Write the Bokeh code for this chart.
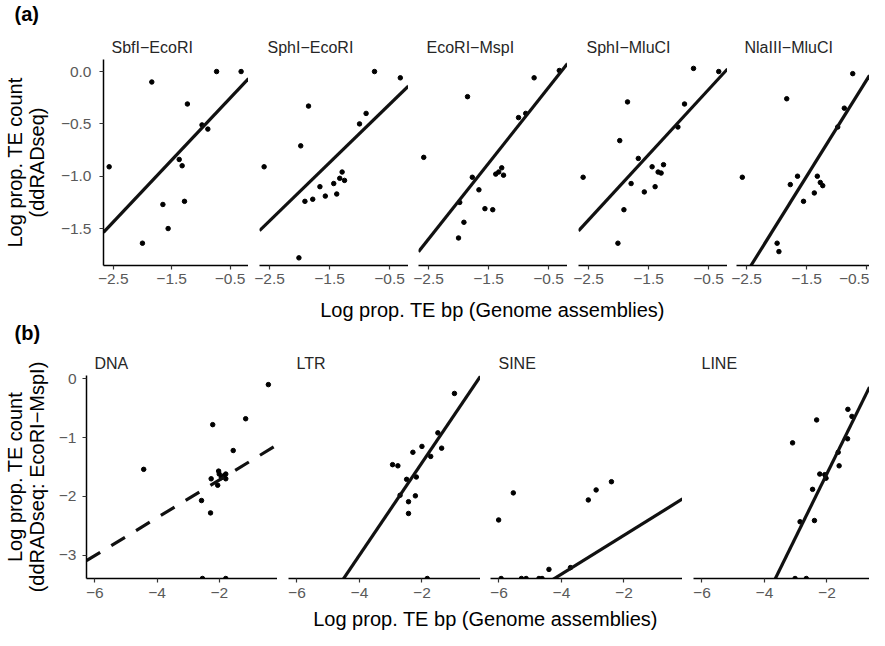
import numpy as np
from bokeh.plotting import figure
from bokeh.layouts import column, row
from bokeh.models import Range1d, Label, FixedTicker
from bokeh.embed import file_html
from bokeh.resources import INLINE

FONT = "Liberation Sans"
MINUS = "\u2212"

# ---------------- (a) data: log prop. TE bp vs log prop. TE count ----------------
a_names = ["SbfI" + MINUS + "EcoRI", "SphI" + MINUS + "EcoRI", "EcoRI" + MINUS + "MspI",
           "SphI" + MINUS + "MluCI", "NlaIII" + MINUS + "MluCI"]

sbfi_ecori_x = [-2.57, -2.00, -1.84, -1.65, -1.56, -1.37, -1.32, -1.28, -1.23, -0.98, -0.88, -0.73, -0.31]
sbfi_ecori_y = [-0.91, -1.64, -0.10, -1.27, -1.50, -0.84, -0.90, -1.24, -0.31, -0.51, -0.55, 0.00, 0.00]

sphi_ecori_x = [-2.59, -2.01, -1.98, -1.91, -1.85, -1.78, -1.66, -1.57, -1.43, -1.38, -1.33, -1.29, -1.25,
                -1.00, -0.89, -0.75, -0.32]
sphi_ecori_y = [-0.91, -1.78, -0.71, -1.24, -0.33, -1.22, -1.10, -1.19, -1.07, -1.17, -1.02, -0.96, -1.04,
                -0.50, -0.40, 0.00, -0.06]

ecori_mspi_x = [-2.58, -2.00, -1.98, -1.91, -1.85, -1.77, -1.66, -1.56, -1.43, -1.38, -1.33, -1.28, -1.25,
                -1.00, -0.88, -0.74, -0.32]
ecori_mspi_y = [-0.82, -1.59, -1.25, -1.44, -0.24, -1.01, -1.13, -1.31, -1.32, -0.98, -0.96, -0.92, -0.99,
                -0.44, -0.40, -0.06, 0.01]

sphi_mluci_x = [-2.59, -2.01, -1.98, -1.91, -1.85, -1.79, -1.67, -1.57, -1.44, -1.39, -1.34, -1.29, -1.25,
                -1.01, -0.90, -0.75, -0.33]
sphi_mluci_y = [-1.01, -1.64, -0.66, -1.32, -0.29, -1.07, -0.83, -1.15, -0.91, -1.10, -0.96, -0.97, -0.89,
                -0.53, -0.31, 0.03, 0.00]

nlaiii_mluci_x = [-2.57, -1.99, -1.96, -1.83, -1.77, -1.65, -1.55, -1.37, -1.32, -1.27, -1.23, -0.98, -0.87,
                  -0.73, -0.31]
nlaiii_mluci_y = [-1.01, -1.64, -1.72, -0.26, -1.08, -1.00, -1.24, -1.16, -1.00, -1.06, -1.09, -0.53, -0.35,
                  -0.02, 0.00]

a_slope = [0.592, 0.557, 0.724, 0.623, 0.920]
a_intercept = [0.042, -0.035, 0.209, 0.139, 0.378]

a_xticks = [-2.5, -1.5, -0.5]
a_xtick_labels = [MINUS + "2.5", MINUS + "1.5", MINUS + "0.5"]
a_yticks = [0.0, -0.5, -1.0, -1.5]
a_ytick_labels = ["0.0", MINUS + "0.5", MINUS + "1.0", MINUS + "1.5"]

# ---------------- (b) data: by TE class (EcoRI-MspI); -inf = zero count ----------------
b_names = ["DNA", "LTR", "SINE", "LINE"]
NEG_INF = -np.inf

dna_x = [-4.43, -2.57, -2.28, -2.26, -2.21, -2.05, -2.02, -2.00, -1.93, -1.85, -1.79, -1.79, -1.55, -1.15,
         -0.42, -2.54, -1.79]
dna_y = [-1.54, -2.07, -2.28, -1.70, -0.78, -1.81, -1.57, -1.62, -1.68, -1.65, -1.62, -1.70, -1.22, -0.68,
         -0.10, NEG_INF, NEG_INF]

ltr_x = [-2.94, -2.77, -2.70, -2.49, -2.43, -2.43, -2.29, -2.21, -2.18, -2.00, -1.72, -1.49, -1.37, -0.96, -1.83]
ltr_y = [-1.46, -1.48, -1.98, -1.71, -2.09, -2.29, -1.25, -1.99, -1.67, -1.15, -1.32, -0.92, -1.18, -0.25,
         NEG_INF]

sine_x = [-6.01, -5.54, -4.40, -3.71, -3.14, -2.89, -2.40, -5.93, -5.28, -5.13, -4.72, -4.62]
sine_y = [-2.40, -1.94, -3.24, -3.21, -2.06, -1.89, -1.75, NEG_INF, NEG_INF, NEG_INF, NEG_INF, NEG_INF]

line_x = [-3.10, -2.86, -2.46, -2.40, -2.33, -2.23, -2.07, -2.03, -1.64, -1.61, -1.34, -1.33, -1.20, -3.02, -2.66]
line_y = [-1.09, -2.43, -1.88, -2.41, -0.70, -1.62, -1.63, -1.69, -1.25, -1.48, -1.02, -0.52, -0.64,
          NEG_INF, NEG_INF]

b_slope = [0.321, 0.785, 0.330, 1.080]
b_intercept = [-1.079, 0.141, -2.001, 0.547]
b_dashed = [True, False, False, False]

b_xticks = [-6, -4, -2]
b_xtick_labels = [MINUS + "6", MINUS + "4", MINUS + "2"]
b_yticks = [0, -1, -2, -3]
b_ytick_labels = ["0", MINUS + "1", MINUS + "2", MINUS + "3"]

x_title = "Log prop. TE bp (Genome assemblies)"
a_ytitle = "Log prop. TE count\n(ddRADseq)"
b_ytitle = "Log prop. TE count\n(ddRADseq: EcoRI" + MINUS + "MspI)"

# ---------------- layout (page pixels) ----------------
PAGE_L = 8
PAGE_R = 877
W = PAGE_R - PAGE_L

a_left = [107, 267, 426, 586, 744]
a_fw = 149
a_fh = 206
a_x0, a_pxu = -2.667, 60.0
a_ylim = (-1.853, 0.115)

b_left = [93, 296, 498, 701]
b_fw = 192
b_fh = 206
b_x0, b_pxu = -6.27, 31.25
b_ylim = (-3.395, 0.055)

TICK_COLOR = "#595959"
STRIP_COLOR = "#262626"


def style_axis(ax, ticks, labels, standoff):
    ax.ticker = FixedTicker(ticks=ticks)
    ax.major_label_overrides = dict(zip(ticks, labels))
    ax.minor_tick_line_color = None
    ax.major_tick_in = 0
    ax.major_tick_out = 4
    ax.major_tick_line_color = "#333333"
    ax.major_tick_line_width = 1.2
    ax.axis_line_color = "black"
    ax.axis_line_width = 1.5
    ax.major_label_text_font = FONT
    ax.major_label_text_font_size = "15.5px"
    ax.major_label_text_color = TICK_COLOR
    ax.major_label_standoff = standoff


def panel(name, xs, ys, slope, icpt, x0, pxu, ylim, fw, fh, bl, bt, bb, xticks, xlabs, xstand,
          yticks=None, ylabs=None, ystand=8, ytitle=None, ytitle_stand=12, dashed=False):
    x1 = x0 + fw / pxu
    p = figure(width=bl + fw, height=bt + fh + bb,
               x_range=Range1d(x0, x1), y_range=Range1d(*ylim),
               output_backend="svg", toolbar_location=None,
               min_border_left=bl, min_border_right=0, min_border_top=bt, min_border_bottom=bb,
               y_axis_location="left" if yticks is not None else None)
    p.grid.visible = False
    p.outline_line_color = None
    p.background_fill_color = "white"
    # strip label
    p.title.text = name
    p.title.align = "left"
    p.title.offset = 8
    p.title.standoff = 8
    p.title.text_font = FONT
    p.title.text_font_size = "16px"
    p.title.text_font_style = "normal"
    p.title.text_color = STRIP_COLOR
    xs = np.asarray(xs, dtype=float)
    ys = np.asarray(ys, dtype=float)
    ys_plot = np.where(np.isinf(ys), ylim[0], ys)
    p.scatter(xs, ys_plot, size=4.5, color="black")
    lx = np.array([x0, x1])
    ly = icpt + slope * lx
    p.line(lx, ly, line_color="#111111", line_width=3.2,
           line_dash="16 13" if dashed else "solid")
    style_axis(p.xaxis[0], xticks, xlabs, xstand)
    if yticks is not None:
        ax = p.yaxis[0]
        style_axis(ax, yticks, ylabs, ystand)
        ax.axis_label = ytitle
        ax.axis_label_text_font = FONT
        ax.axis_label_text_font_size = "20px"
        ax.axis_label_text_font_style = "normal"
        ax.axis_label_text_color = "black"
        ax.axis_label_text_line_height = 1.0
        ax.axis_label_standoff = ytitle_stand
    return p


def blank(h):
    p = figure(width=W, height=h, x_range=Range1d(0, W), y_range=Range1d(h, 0),
               output_backend="svg", toolbar_location=None,
               min_border_left=0, min_border_right=0, min_border_top=0, min_border_bottom=0,
               x_axis_location=None, y_axis_location=None)
    p.grid.visible = False
    p.outline_line_color = None
    return p


def text(p, x, y, s, size, bold=False, align="left", color="black"):
    p.add_layout(Label(x=x, y=y, text=s, text_font=FONT, text_font_size=f"{size}px",
                       text_font_style="bold" if bold else "normal", text_align=align,
                       text_baseline="middle", text_color=color))


# header (page y 8 -> 40)
HEAD_H = 32
head_a = blank(HEAD_H)
text(head_a, 22 - PAGE_L, 21 - PAGE_L, "(a)", 20, bold=True)

# top row (page y 40 -> 300): frame 67 -> 273
a_data = [(sbfi_ecori_x, sbfi_ecori_y), (sphi_ecori_x, sphi_ecori_y), (ecori_mspi_x, ecori_mspi_y),
          (sphi_mluci_x, sphi_mluci_y), (nlaiii_mluci_x, nlaiii_mluci_y)]
top_figs = []
prev_end = PAGE_L
for i, ((xs, ys), lft) in enumerate(zip(a_data, a_left)):
    fw = a_fw if i < len(a_left) - 1 else PAGE_R - lft
    bl = lft - prev_end
    prev_end = lft + fw
    kw = dict(yticks=a_yticks, ylabs=a_ytick_labels, ystand=8, ytitle=a_ytitle, ytitle_stand=10) if i == 0 else {}
    top_figs.append(panel(a_names[i], xs, ys, a_slope[i], a_intercept[i], a_x0, a_pxu, a_ylim, fw, a_fh,
                          bl, 27, 27, a_xticks, a_xtick_labels, 4, **kw))

# middle (page y 300 -> 356)
MID_TOP = 300
mid = blank(56)
a_center = (a_left[0] + a_left[-1] + a_fw) / 2
text(mid, a_center - PAGE_L, 317 - MID_TOP, x_title, 20, align="center")
text(mid, 22 - PAGE_L, 340 - MID_TOP, "(b)", 20, bold=True)

# bottom row (page y 356 -> 615): frame 380 -> 586
b_data = [(dna_x, dna_y), (ltr_x, ltr_y), (sine_x, sine_y), (line_x, line_y)]
bot_figs = []
prev_end = PAGE_L
for i, ((xs, ys), lft) in enumerate(zip(b_data, b_left)):
    fw = b_fw if i < len(b_left) - 1 else PAGE_R - lft
    bl = lft - prev_end
    prev_end = lft + fw
    kw = dict(yticks=b_yticks, ylabs=b_ytick_labels, ystand=6, ytitle=b_ytitle, ytitle_stand=8) if i == 0 else {}
    bot_figs.append(panel(b_names[i], xs, ys, b_slope[i], b_intercept[i], b_x0, b_pxu, b_ylim, fw, b_fh,
                          bl, 24, 29, b_xticks, b_xtick_labels, 5, dashed=b_dashed[i], **kw))

# bottom title (page y 615 -> 638)
foot = blank(23)
b_center = (b_left[0] + b_left[-1] + b_fw) / 2
text(foot, b_center - PAGE_L, 11.5, x_title, 20, align="center")

layout = column(head_a, row(*top_figs), mid, row(*bot_figs), foot)

open("out.html", "w").write(file_html(layout, INLINE))
